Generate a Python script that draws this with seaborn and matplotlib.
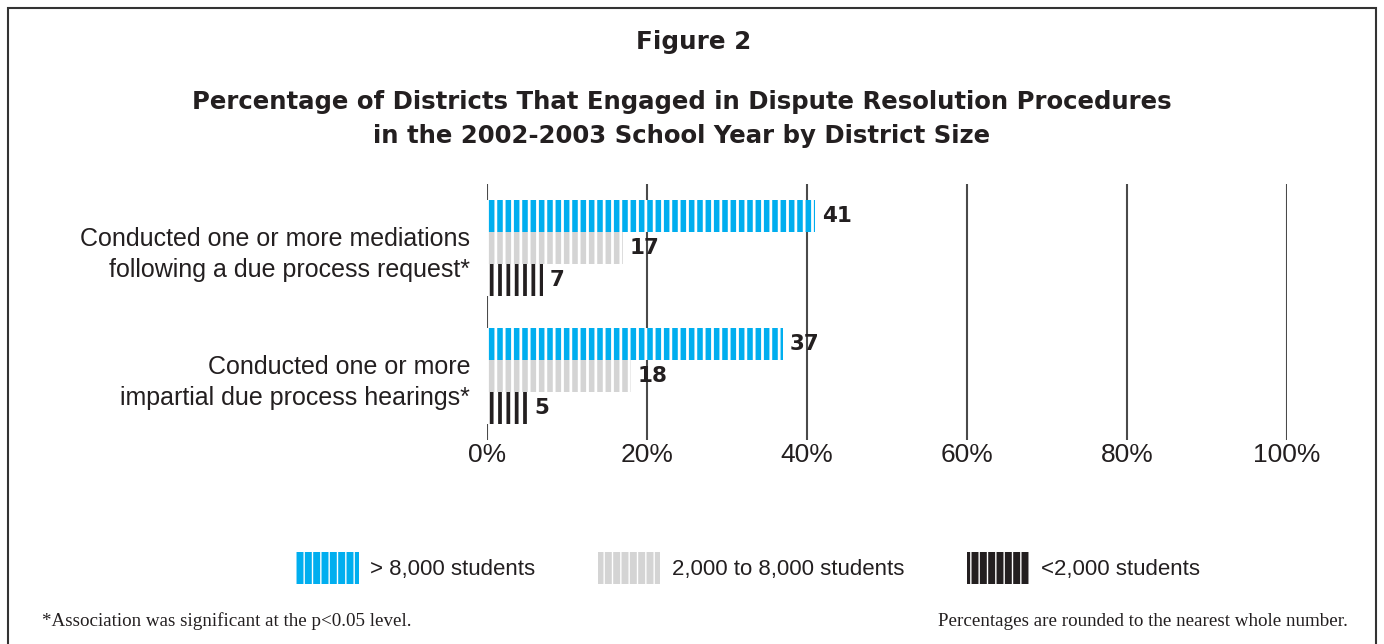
import matplotlib
matplotlib.use("Agg")
import matplotlib.pyplot as plt
import matplotlib.patches as mpatches
import seaborn as sns
import pandas as pd

categories = [
    "Conducted one or more mediations\nfollowing a due process request*",
    "Conducted one or more\nimpartial due process hearings*",
]
series_names = ["> 8,000 students", "2,000 to 8,000 students", "<2,000 students"]
large = [41, 37]
medium = [17, 18]
small = [7, 5]
tick_values = [0, 20, 40, 60, 80, 100]
tick_labels = ["0%", "20%", "40%", "60%", "80%", "100%"]

colors = ["#00AEEF", "#D4D4D4", "#231F20"]
gap_widths = [2.0, 2.0, 3.3]  # white stripe width (pt)

rows = []
for name, vals in zip(series_names, [large, medium, small]):
    for c, v in zip(categories, vals):
        rows.append({"category": c, "series": name, "value": v})
df = pd.DataFrame(rows)

sns.set_theme(style="white")
plt.rcParams["font.family"] = ["Liberation Sans", "DejaVu Sans"]

heavy = dict(family=["DejaVu Sans"], fontweight="bold")

fig = plt.figure(figsize=(13.84, 6.44), dpi=100)
ax = fig.add_axes([487 / 1384, 204 / 644, 800 / 1384, 256 / 644])

for v in tick_values:
    ax.axvline(v, color="#4a4a4a", lw=1.5, zorder=0)

sns.barplot(data=df, y="category", x="value", hue="series", orient="h",
            palette=colors, hue_order=series_names, order=categories,
            width=0.75, saturation=1, legend=False, ax=ax, zorder=3)


def stripe(patch, lw):
    patch.set_edgecolor("white")
    patch.set_linewidth(0)
    patch.set_hatch("||")
    if hasattr(patch, "set_hatch_linewidth"):
        patch.set_hatch_linewidth(lw)
    else:
        patch._hatch_linewidth = lw


for cont, col, lw in zip(ax.containers, colors, gap_widths):
    for p in cont.patches:
        stripe(p, lw)
    ax.bar_label(cont, labels=[f"{v:.0f}" for v in cont.datavalues], padding=5,
                 fontsize=15.5, color="#231F20", **heavy)

ax.set_xlim(0, 100)
ax.set_ylim(1.5, -0.5)
ax.set_xticks(tick_values)
ax.set_xticklabels(tick_labels, fontsize=19, color="#231F20")
ax.tick_params(axis="x", length=0, pad=2)
ax.tick_params(axis="y", length=0, pad=12)
for t in ax.get_yticklabels():
    t.set_fontsize(18)
    t.set_color("#231F20")
    t.set_linespacing(1.42)
    t.set_verticalalignment("center_baseline")
ax.set_xlabel("")
ax.set_ylabel("")
for s in ax.spines.values():
    s.set_visible(False)

fig.text(694 / 1384, 1 - 42 / 644, "Figure 2", ha="center", va="center",
         fontsize=17.7, color="#231F20", **heavy)
fig.text(682 / 1384, 1 - 119 / 644,
         "Percentage of Districts That Engaged in Dispute Resolution Procedures\n"
         "in the 2002-2003 School Year by District Size",
         ha="center", va="center", fontsize=17.6, color="#231F20",
         linespacing=1.55, **heavy)

handles = []
for col, lw in zip(colors, gap_widths):
    h = mpatches.Patch(facecolor=col, edgecolor="white", linewidth=0, hatch="||")
    if hasattr(h, "set_hatch_linewidth"):
        h.set_hatch_linewidth(lw)
    else:
        h._hatch_linewidth = lw
    handles.append(h)
fig.legend(handles=handles, labels=series_names, loc="center",
           bbox_to_anchor=(748 / 1384, 76 / 644), ncol=3, frameon=False,
           fontsize=16, handlelength=2.8, handleheight=1.9,
           handletextpad=0.5, columnspacing=2.85, labelcolor="#231F20")

fig.text(42 / 1384, 23 / 644, "*Association was significant at the p<0.05 level.",
         ha="left", va="center", fontsize=13.7, family="Liberation Serif",
         color="#231F20")
fig.text(1348 / 1384, 23 / 644, "Percentages are rounded to the nearest whole number.",
         ha="right", va="center", fontsize=13.7, family="Liberation Serif",
         color="#231F20")

frame = mpatches.Rectangle((8 / 1384, -0.02), 1368 / 1384, (636 / 644) + 0.02,
                           transform=fig.transFigure, fill=False,
                           edgecolor="#333333", linewidth=1.5)
fig.add_artist(frame)

fig.savefig("out.png", dpi=100)
